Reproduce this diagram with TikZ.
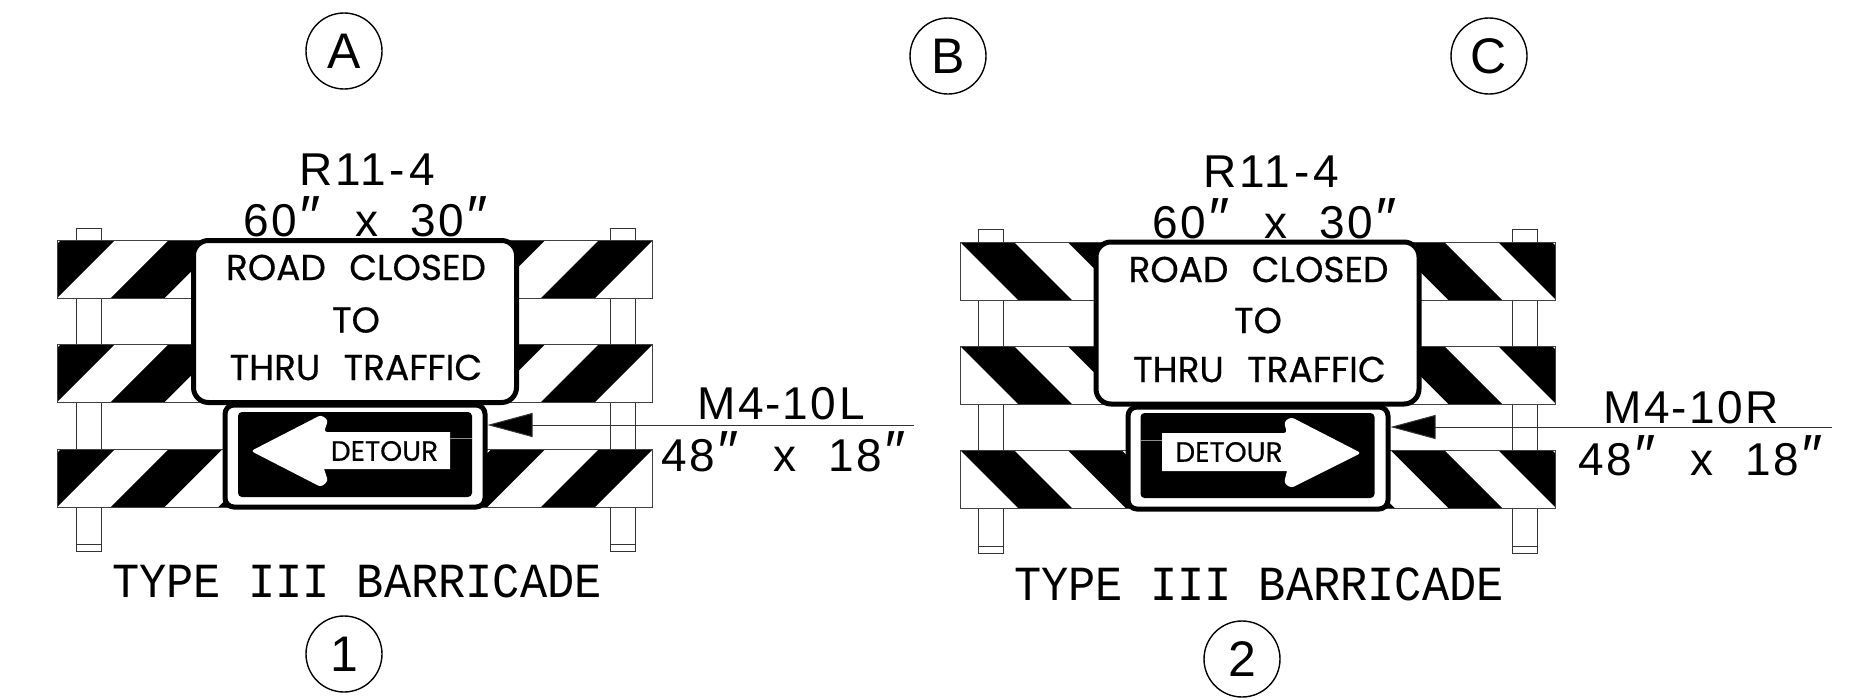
\documentclass[tikz,border=0pt]{standalone}
\usepackage{fontspec}
\usepackage{tikz}
\usetikzlibrary{arrows.meta,positioning}
\newfontfamily\dimfont[LetterSpace=6]{Liberation Sans}
\newfontfamily\codefont[LetterSpace=5]{Liberation Sans}
\newfontfamily\signfont[FakeBold=0.5]{Poppins}
\newfontfamily\typefont[FakeStretch=0.925]{Liberation Mono}
\newcommand{\inchmark}{{\fontsize{58}{58}\selectfont\textit{″}}}
\tikzset{
 barline/.style={draw=black!75,line width=1pt},
 postline/.style={draw=black!80,line width=1pt},
 bigsign/.style={draw,fill=white,line width=5pt,rounded corners=15pt,rectangle,minimum width=323pt,minimum height=162pt,inner sep=0pt},
 detoursign/.style={draw,fill=white,line width=5pt,rounded corners=9pt,rectangle,minimum width=260pt,minimum height=102pt,inner sep=0pt},
 detourpanel/.style={fill=black,rounded corners=4pt,rectangle,minimum width=234pt,minimum height=85pt,inner sep=0pt},
 signtext/.style={font=\signfont\fontsize{36}{36}\selectfont,inner sep=0pt},
 detourtext/.style={font=\signfont\fontsize{28}{28}\selectfont,inner sep=0pt},
 dimtext/.style={font=\dimfont\fontsize{46}{46}\selectfont,inner sep=0pt},
 codetext/.style={font=\codefont\fontsize{46}{46}\selectfont,inner sep=0pt},
 typetext/.style={font=\typefont\fontsize{49}{49}\selectfont,inner sep=0pt},
 ballon/.style={draw,circle,fill=white,line width=1.4pt,minimum size=76pt,inner sep=0pt,font=\dimfont\fontsize{50}{50}\selectfont},
 leader/.style={draw=black!80,line width=1pt,-{Triangle[length=45pt,width=24pt,fill=black]}}
}
\begin{document}
\begin{tikzpicture}[x=1pt,y=-1pt]
\useasboundingbox (0,0) rectangle (1862,699);
% left barricade
\foreach \px in {76,610} {
 \draw[postline] (\px,228) rectangle (\px+25,551);
 \draw[postline] (\px,544) -- (\px+25,544);
}
\foreach \by in {240,344,449} {
 \fill[white] (57,\by) rectangle (652,\by+58);
 \begin{scope}
 \clip (57,\by) rectangle (652,\by+58);
 \foreach \k in {-1,1,...,9}
  \fill (57+53.8*\k,\by+58) -- (57+53.8*\k+53.8,\by+58) -- (115+53.8*\k+53.8,\by) -- (115+53.8*\k,\by) -- cycle;
 \end{scope}
 \draw[barline] (57,\by) rectangle (652,\by+58);
}
% right barricade
\foreach \px in {978,1512} {
 \draw[postline] (\px,229) rectangle (\px+25,553);
 \draw[postline] (\px,546) -- (\px+25,546);
}
\foreach \by in {242,346,450} {
 \fill[white] (960,\by) rectangle (1555,\by+58);
 \begin{scope}
 \clip (960,\by) rectangle (1555,\by+58);
 \foreach \k in {0,2,...,10}
  \fill (960+53.8*\k,\by) -- (960+53.8*\k+53.8,\by) -- (1018+53.8*\k+53.8,\by+58) -- (1018+53.8*\k,\by+58) -- cycle;
 \end{scope}
 \draw[barline] (960,\by) rectangle (1555,\by+58);
}
% signs
\draw (355,321.5) node [bigsign] (closedL) {};
\draw (1257.5,323) node [bigsign] (closedR) {};
\draw (355,456) node [detoursign] (detourL) {};
\draw (1258,458) node [detoursign] (detourR) {};
\draw (355,454.5) node [detourpanel] (panelL) {};
\draw (1257.5,455.5) node [detourpanel] (panelR) {};
\draw (356,267.5) node [signtext] (roadL) {ROAD\hspace{0.65em}CLOSED};
\draw (356,320) node [signtext] (toL) {TO};
\draw (356,367.5) node [signtext] (thruL) {THRU\hspace{0.65em}TRAFFIC};
\draw (1258.5,269.5) node [signtext] (roadR) {ROAD\hspace{0.65em}CLOSED};
\draw (1258,320.5) node [signtext] (toR) {TO};
\draw (1259.5,369.5) node [signtext] (thruR) {THRU\hspace{0.65em}TRAFFIC};
% arrows
\fill[white,rounded corners=3pt] (251,451) -- (321,415) -- (328,420) -- (324,432) [sharp corners] -- (450,432) -- (450,469) -- (324,469) [rounded corners=3pt] -- (328,481) -- (321,487) -- cycle;
\fill[white,rounded corners=3pt] (1361,453) -- (1291,417) -- (1284,422) -- (1287,433) [sharp corners] -- (1162,433) -- (1162,471) -- (1287,471) [rounded corners=3pt] -- (1284,483) -- (1291,488) -- cycle;
\draw[black!45,line width=1pt] (450,438) -- (472,438);
\draw[black!45,line width=1pt] (1141,440) -- (1162,440);
\draw (384.5,451) node [detourtext] (wordL) {DETOUR};
\draw (1229,452) node [detourtext] (wordR) {DETOUR};
% labels
\draw (367,170) node [dimtext] (codeL) {R11\hspace{0.09em}-\hspace{0.09em}4};
\draw (366.5,217) node [dimtext] (sizeL) {60\inchmark\hspace{0.7em}x\hspace{0.7em}30\inchmark};
\draw (1271.5,172) node [dimtext] (codeR) {R11\hspace{0.09em}-\hspace{0.09em}4};
\draw (1275.5,219) node [dimtext] (sizeR) {60\inchmark\hspace{0.7em}x\hspace{0.7em}30\inchmark};
\draw (781,404) node [dimtext] (mainL) {M4\hspace{0.04em}-\hspace{0.04em}10L};
\draw (784.5,451.5) node [dimtext] (subL) {48\inchmark\hspace{0.7em}x\hspace{0.7em}18\inchmark};
\draw (1691,407.5) node [codetext] (mainR) {M4-10R};
\draw (1701.5,455.5) node [dimtext] (subR) {48\inchmark\hspace{0.7em}x\hspace{0.7em}18\inchmark};
\draw (357,581.5) node [typetext] (typeL) {TYPE III BARRICADE};
\draw (1259,584) node [typetext] (typeR) {TYPE III BARRICADE};
% leaders
\coordinate (endL) at (914,425);
\coordinate (endR) at (1832,427);
\draw[leader] (endL) -- (endL -| detourL.east);
\draw[leader] (endR) -- (endR -| detourR.east);
% balloons
\draw (344,51) node [ballon] (balA) {A};
\draw (948,56) node [ballon] (balB) {B};
\draw (1489,56) node [ballon] (balC) {C};
\draw (344,654) node [ballon] (bal1) {1};
\draw (1242,659) node [ballon] (bal2) {2};
\end{tikzpicture}
\end{document}
